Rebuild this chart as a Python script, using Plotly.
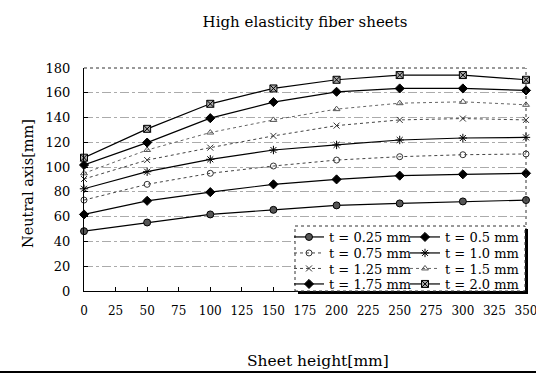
import plotly.graph_objects as go

heights = [0, 50, 100, 150, 200, 250, 300, 350]
t025 = [48.3, 55.3, 61.8, 65.5, 69.1, 70.7, 72.3, 73.4]
t050 = [61.8, 72.8, 79.8, 86.1, 90.1, 93.1, 94.2, 95.0]
t075 = [73.4, 86.1, 95.0, 100.9, 105.7, 108.4, 110.0, 110.6]
t100 = [82.5, 96.3, 106.3, 113.8, 117.9, 121.9, 123.5, 124.0]
t125 = [90.4, 105.7, 115.7, 125.2, 133.5, 138.1, 139.2, 138.1]
t150 = [95.0, 113.8, 127.9, 138.1, 146.8, 151.6, 152.7, 150.3]
t175 = [101.7, 119.8, 139.5, 152.5, 160.8, 163.5, 163.5, 161.9]
t200 = [107.6, 130.9, 151.1, 163.5, 170.5, 174.3, 174.3, 170.5]

labels = ["t = 0.25 mm", "t = 0.5 mm", "t = 0.75 mm", "t = 1.0 mm",
          "t = 1.25 mm", "t = 1.5 mm", "t = 1.75 mm", "t = 2.0 mm"]
series = [t025, t050, t075, t100, t125, t150, t175, t200]

styles = [
    dict(symbol="circle", size=7, color="#555", lc="black", dash="solid", lw=1.2, lcol="black"),
    dict(symbol="diamond", size=7, color="black", lc="black", dash="solid", lw=1.2, lcol="black"),
    dict(symbol="circle-open", size=6, color="#333", lc="#333", dash="dot", lw=1, lcol="#444"),
    dict(symbol="asterisk-open", size=7, color="black", lc="black", dash="solid", lw=1.2, lcol="black"),
    dict(symbol="x-thin-open", size=6, color="#333", lc="#333", dash="dot", lw=1, lcol="#444"),
    dict(symbol="triangle-up-open", size=6, color="#555", lc="#555", dash="dot", lw=1, lcol="#666"),
    dict(symbol="diamond", size=7, color="black", lc="black", dash="solid", lw=1.2, lcol="black"),
    dict(symbol="square-x", size=7, color="#aaa", lc="black", dash="solid", lw=1.2, lcol="black"),
]

FONT = "DejaVu Serif"
W, H = 536, 374
L, R, T, B = 84, 10, 68, 83
pw, ph = W - L - R, H - T - B


def px(x):
    return (x - L) / pw


def py(y):
    return (H - B - y) / ph


leg_rows = [237, 253, 268.5, 284]
leg_cols = [289, 405]

fig = go.Figure()
legends = {}
for i, (lab, ys, st) in enumerate(zip(labels, series, styles)):
    key = "legend" if i == 0 else f"legend{i + 1}"
    fig.add_trace(go.Scatter(
        x=heights, y=ys, name=lab, mode="lines+markers",
        line=dict(color=st["lcol"], width=st["lw"], dash=st["dash"]),
        marker=dict(symbol=st["symbol"], size=st["size"], color=st["color"],
                    line=dict(color=st["lc"], width=1)),
        cliponaxis=False,
        legend=key,
    ))
    legends[key] = dict(x=px(leg_cols[i % 2]), y=py(leg_rows[i // 2]),
                        xanchor="left", yanchor="middle",
                        bgcolor="rgba(0,0,0,0)",
                        font=dict(family=FONT, size=13, color="black"),
                        itemwidth=30)

fig.update_layout(
    width=W, height=H,
    margin=dict(l=L, r=R, t=T, b=B, autoexpand=False),
    paper_bgcolor="white", plot_bgcolor="white",
    title=dict(text="High elasticity fiber sheets", x=0.5, xref="paper",
               y=1 - 22 / H, yref="container", yanchor="middle", xanchor="center",
               font=dict(family=FONT, size=15, color="black")),
    xaxis=dict(range=[0, 350], tick0=0, dtick=25, ticks="inside", ticklen=4,
               tickcolor="black", showline=True, linecolor="black", linewidth=1,
               showgrid=False, zeroline=False, ticklabelstandoff=9, automargin=False,
               ticklabeloverflow="allow",
               tickfont=dict(family=FONT, size=12, color="black")),
    yaxis=dict(range=[0, 180], tick0=0, dtick=20, ticks="inside", ticklen=4,
               tickcolor="black", showline=True, linecolor="black", linewidth=1,
               showgrid=True, gridcolor="#ababab", griddash="dashdot", gridwidth=1,
               zeroline=False, ticklabelstandoff=10, automargin=False,
               ticklabeloverflow="allow",
               tickfont=dict(family=FONT, size=13, color="black")),
    showlegend=True,
    annotations=[
        dict(text="Neutral axis[mm]", x=px(28), y=py(184), xref="paper", yref="paper",
             showarrow=False, textangle=-90, xanchor="center", yanchor="middle",
             font=dict(family=FONT, size=14.5, color="black")),
        dict(text="Sheet height[mm]", x=px(318), y=py(361), xref="paper", yref="paper",
             showarrow=False, xanchor="center", yanchor="middle",
             font=dict(family=FONT, size=15.5, color="black")),
    ],
    shapes=[
        dict(type="line", xref="paper", yref="paper", x0=0, x1=1, y0=1, y1=1,
             line=dict(color="#333", width=1, dash="dot")),
        dict(type="line", xref="paper", yref="paper", x0=1, x1=1, y0=0, y1=1,
             line=dict(color="#333", width=1, dash="dot")),
        dict(type="rect", xref="paper", yref="paper", x0=px(298), x1=px(528),
             y0=py(294), y1=py(229), fillcolor="black", line=dict(width=0), layer="above"),
        dict(type="rect", xref="paper", yref="paper", x0=px(295), x1=px(525),
             y0=py(291), y1=py(226), fillcolor="white",
             line=dict(color="#333", width=1, dash="dot"), layer="above"),
        dict(type="line", xref="paper", yref="paper", x0=px(0), x1=px(536),
             y0=py(372), y1=py(372), line=dict(color="black", width=2)),
    ],
)
fig.update_layout(**legends)

fig.write_html("out.html")
